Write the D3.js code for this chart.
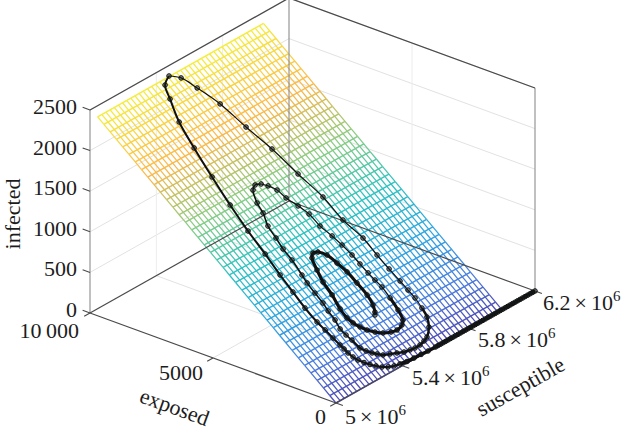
<!DOCTYPE html>
<html>
<head>
<meta charset="utf-8">
<script src="https://cdn.jsdelivr.net/npm/d3@7"></script>
<style>
  html, body { margin: 0; padding: 0; background: #fff; }
  text { font-family: "Liberation Serif", serif; fill: #1c1c1c; }
</style>
</head>
<body>
<div id="chart"></div>
<script>
// ticks
var sTicks = [5000000, 5400000, 5800000, 6200000];
var sTickLabels = ["5", "5.4", "5.8", "6.2"];
var eTicks = [0, 5000, 10000];
var eTickLabels = ["0", "5000", "10\u2009000"];
var iTicks = [0, 500, 1000, 1500, 2000, 2500];

// mesh surface
var meshS = [5000000,5025000,5050000,5075000,5100000,5125000,5150000,5175000,5200000,5225000,5250000,5275000,5300000,5325000,5350000,5375000,5400000,5425000,5450000,5475000,5500000,5525000,5550000,5575000,5600000,5625000,5650000,5675000,5700000,5725000,5750000,5775000,5800000,5825000,5850000,5875000,5900000,5925000,5950000,5975000,6000000];
var meshE = [0,255,510,765,1020,1275,1530,1785,2040,2295,2550,2805,3060,3315,3570,3825,4080,4335,4590,4845,5100,5355,5610,5865,6120,6375,6630,6885,7140,7395,7650,7905,8160,8415,8670,8925,9180,9435,9690];
var meshI = [0,64,129,193,258,322,387,451,516,580,645,709,774,838,903,967,1032,1096,1161,1225,1290,1354,1419,1483,1548,1612,1677,1741,1806,1870,1935,1999,2064,2128,2193,2257,2322,2386,2451];

// trajectory, in thousands for susceptible
var trajS = [6200,6185,6170,6155,6140,6125,6110,6095,6080,6065,6050,6035,6020,6005,5990,5975,5960,5945,5930,5915,5900,5885,5870,5855,5840,5825,5810,5795,5780,5765,5750,5735,5720,5705,5690,5675,5660,5645,5630,5615,5600,
  5556,5515,5474,5433,5396,5365,5337,5312,5291,5271,5253,5237,5227,5220,5217,5214,5209,5204,5198,5196,5201,5206,5216,5224,5239,5260,5285,5312,5353,5380,5427,
  5470,5502,5542,5570,5602,5624,5648,5652,5673,5673,5675,5679,5681,5683,5677,5667,5641,5599,5573,5543,5512,5485,5454,5421,5389,5357,5336,5319,5301,5286,
  5280,5273,5269,5279,5281,5287,5288,5290,5296,5306,5307,5315,5323,5347,5357,5384,5410,5438,5460,5483,5493,5515,5533,5537,5553,5563,5570,5572,5575,5579,5584,5580,5572,5558,5537,
  5500,5468,5432,5402,5376,5358,5343,5335,5337,5352,5359,5375,5395,5416,5440,5467,5481,5492,5495,5496,5486,5470,5460];
var trajE = [0,0,0,0,0,0,0,0,0,0,0,0,0,0,0,0,0,0,0,0,0,0,0,0,0,0,0,0,0,0,0,0,0,0,0,0,0,0,0,0,0,
  5,15,25,36,69,100,155,232,333,445,568,703,837,993,1136,1280,1531,1818,2105,2582,3104,3662,4338,5086,5916,6791,7690,8480,9125,9510,9666,
  9465,9028,8364,7500,6659,5749,4898,4112,3439,2868,2392,1974,1664,1390,1070,799,543,339,287,247,242,261,292,360,427,495,595,683,806,953,
  1239,1432,1647,1919,2215,2464,2797,3130,3378,3851,4221,4563,4943,5305,5613,5962,6052,5997,5861,5652,5353,5014,4688,4271,3886,3550,3191,2881,2572,2320,2069,1713,1334,1040,938,
  888,919,1000,1126,1275,1435,1617,1810,2106,2532,2946,3299,3639,3741,3700,3514,3201,2866,2484,2079,1772,1585,1516];
var trajI = [0,0,0,0,0,0,0,0,0,0,0,0,0,0,0,0,0,0,0,0,0,0,0,0,0,0,0,0,0,0,0,0,0,0,0,0,0,0,0,0,0,
  1,4,6,9,18,26,40,59,85,113,145,179,213,253,290,326,390,464,537,658,792,934,1106,1297,1508,1732,1961,2162,2327,2425,2465,
  2414,2302,2133,1912,1698,1466,1249,1049,877,731,610,503,424,354,273,204,138,86,73,63,62,67,74,92,109,126,152,174,206,243,
  316,365,420,489,565,628,713,798,861,982,1076,1164,1260,1353,1431,1520,1543,1529,1495,1441,1365,1279,1195,1089,991,905,814,735,656,592,528,437,340,265,239,
  226,234,255,287,325,366,412,462,537,646,751,841,928,954,943,896,816,731,633,530,452,404,387];

var width = 622, height = 433;

var svg = d3.select("#chart").append("svg")
  .attr("width", width)
  .attr("height", height);

// the three box edges seen from the front corner
var sx = d3.scaleLinear().domain([5000000, 6200000]).range([0, 199]);
var sy = d3.scaleLinear().domain([5000000, 6200000]).range([0, -112]);
var ex = d3.scaleLinear().domain([0, 10000]).range([0, -246]);
var ey = d3.scaleLinear().domain([0, 10000]).range([0, -90]);
var iy = d3.scaleLinear().domain([0, 2500]).range([0, -203]);

function project(s, e, i) {
  return [336 + sx(s) + ex(e), 403 + sy(s) + ey(e) + iy(i)];
}

var color = d3.scaleLinear()
  .domain([0, 300, 700, 1100, 1500, 1950, 2451])
  .range(["#4f48b0", "#4a7ede", "#2ea6e0", "#2fc2c0", "#86cc84", "#fcb84a", "#f4ec40"]);

var line = d3.line();

function seg(a, b, stroke, w) {
  svg.append("path")
    .attr("d", line([project(a[0], a[1], a[2]), project(b[0], b[1], b[2])]))
    .attr("fill", "none")
    .attr("stroke", stroke)
    .attr("stroke-width", w);
}

var sMin = 5000000, sMax = 6200000, eMax = 10000, iMax = 2500;

// grid on the walls and floor
var gridColor = "#e2e2e2";
iTicks.slice(1).forEach(function(v) {
  seg([sMin, eMax, v], [sMax, eMax, v], gridColor, 1);
  seg([sMax, eMax, v], [sMax, 0, v], gridColor, 1);
});
sTicks.slice(1, 3).forEach(function(v) {
  seg([v, eMax, 0], [v, eMax, iMax], "#ececec", 1);
  seg([v, 0, 0], [v, eMax, 0], gridColor, 1);
});
seg([sMin, 5000, 0], [sMax, 5000, 0], gridColor, 1);
seg([sMax, 5000, 0], [sMax, 5000, iMax], "#ececec", 1);

// mesh: dense lines first, then the stronger rows
meshS.forEach(function(s) {
  for (var j = 0; j < meshE.length - 1; j++) {
    seg([s, meshE[j], meshI[j]], [s, meshE[j + 1], meshI[j + 1]], color((meshI[j] + meshI[j + 1]) / 2), 1.25);
  }
});
meshE.forEach(function(e, j) {
  seg([sMin, e, meshI[j]], [6000000, e, meshI[j]], color(meshI[j]), 1.45);
});

// box
var edgeDark = "#4a4a4a", edgeGrey = "#8c8c8c";
seg([sMin, eMax, iMax], [sMin, eMax, 0], edgeGrey, 1.1);
seg([sMax, eMax, iMax], [sMax, eMax, 0], edgeGrey, 1.1);
seg([sMax, 0, iMax], [sMax, 0, 0], edgeGrey, 1.1);
seg([sMin, eMax, iMax], [sMax, eMax, iMax], edgeDark, 1.3);
seg([sMax, eMax, iMax], [sMax, 0, iMax], edgeDark, 1.3);
seg([sMin, eMax, 0], [sMin, 0, 0], edgeDark, 1.2);
seg([sMin, eMax, 0], [sMax, eMax, 0], edgeDark, 1.2);
seg([sMax, eMax, 0], [sMax, 0, 0], edgeDark, 1.2);
seg([sMin, 0, 0], [sMax, 0, 0], edgeDark, 1.2);

// tick marks
iTicks.forEach(function(v) { seg([sMin, eMax, v], [sMin, eMax + 300, v], edgeDark, 1.1); });
eTicks.forEach(function(v) { seg([sMin, v, 0], [sMin - 35000, v, 0], edgeDark, 1.1); });
sTicks.forEach(function(v) { seg([v, 0, 0], [v, -280, 0], edgeDark, 1.1); });

// trajectory
var pts = trajS.map(function(s, k) { return project(s * 1000, trajE[k], trajI[k]); });

// the line looks heavier where the run is slow, so it goes in stretches
var stretches = [[0, 46, 3.6], [45, 72, 2], [71, 87, 1.2], [86, 103, 2.4], [102, 120, 1.6], [119, 134, 1.2], [133, pts.length, 3.1]];
stretches.forEach(function(p) {
  svg.append("path")
    .attr("d", d3.line().curve(d3.curveCatmullRom)(pts.slice(p[0], p[1])))
    .attr("fill", "none")
    .attr("stroke", "#101010")
    .attr("stroke-width", p[2]);
});

svg.selectAll(".marker")
  .data(pts)
  .enter().append("circle")
  .attr("class", "marker")
  .attr("cx", function(d) { return d[0]; })
  .attr("cy", function(d) { return d[1]; })
  .attr("r", 2.3)
  .attr("fill", "rgba(20,30,30,0.5)")
  .attr("stroke", "#111")
  .attr("stroke-width", 1);

// tick labels
var fontSize = 22;
svg.selectAll(".iLabel")
  .data(iTicks)
  .enter().append("text")
  .attr("class", "iLabel")
  .attr("x", 77)
  .attr("y", function(d) { return project(sMin, eMax, d)[1] + 4; })
  .attr("text-anchor", "end")
  .style("font-size", fontSize + "px")
  .text(function(d) { return d; });

var eLabelPos = [[326, 424], [203, 380], [79, 338]];
eTicks.forEach(function(v, k) {
  svg.append("text")
    .attr("x", eLabelPos[k][0])
    .attr("y", eLabelPos[k][1])
    .attr("text-anchor", "end")
    .style("font-size", fontSize + "px")
    .text(eTickLabels[k]);
});

var sLabelPos = [[345, 424], [412, 385], [478, 347], [543, 310]];
sTicks.forEach(function(v, k) {
  var t = svg.append("text")
    .attr("x", sLabelPos[k][0])
    .attr("y", sLabelPos[k][1])
    .style("font-size", fontSize + "px");
  t.append("tspan").text(sTickLabels[k]);
  t.append("tspan").attr("dx", 4).text("×");
  t.append("tspan").attr("dx", 4).text("10");
  t.append("tspan").attr("dy", -9).style("font-size", "15px").text("6");
});

// axis labels
svg.append("text")
  .attr("transform", "translate(20,214) rotate(-90)")
  .attr("text-anchor", "middle")
  .style("font-size", fontSize + "px")
  .text("infected");
svg.append("text")
  .attr("transform", "translate(172,414) rotate(20)")
  .attr("text-anchor", "middle")
  .style("font-size", fontSize + "px")
  .text("exposed");
svg.append("text")
  .attr("transform", "translate(524,393) rotate(-29.4)")
  .attr("text-anchor", "middle")
  .style("font-size", fontSize + "px")
  .text("susceptible");
</script>
</body>
</html>
